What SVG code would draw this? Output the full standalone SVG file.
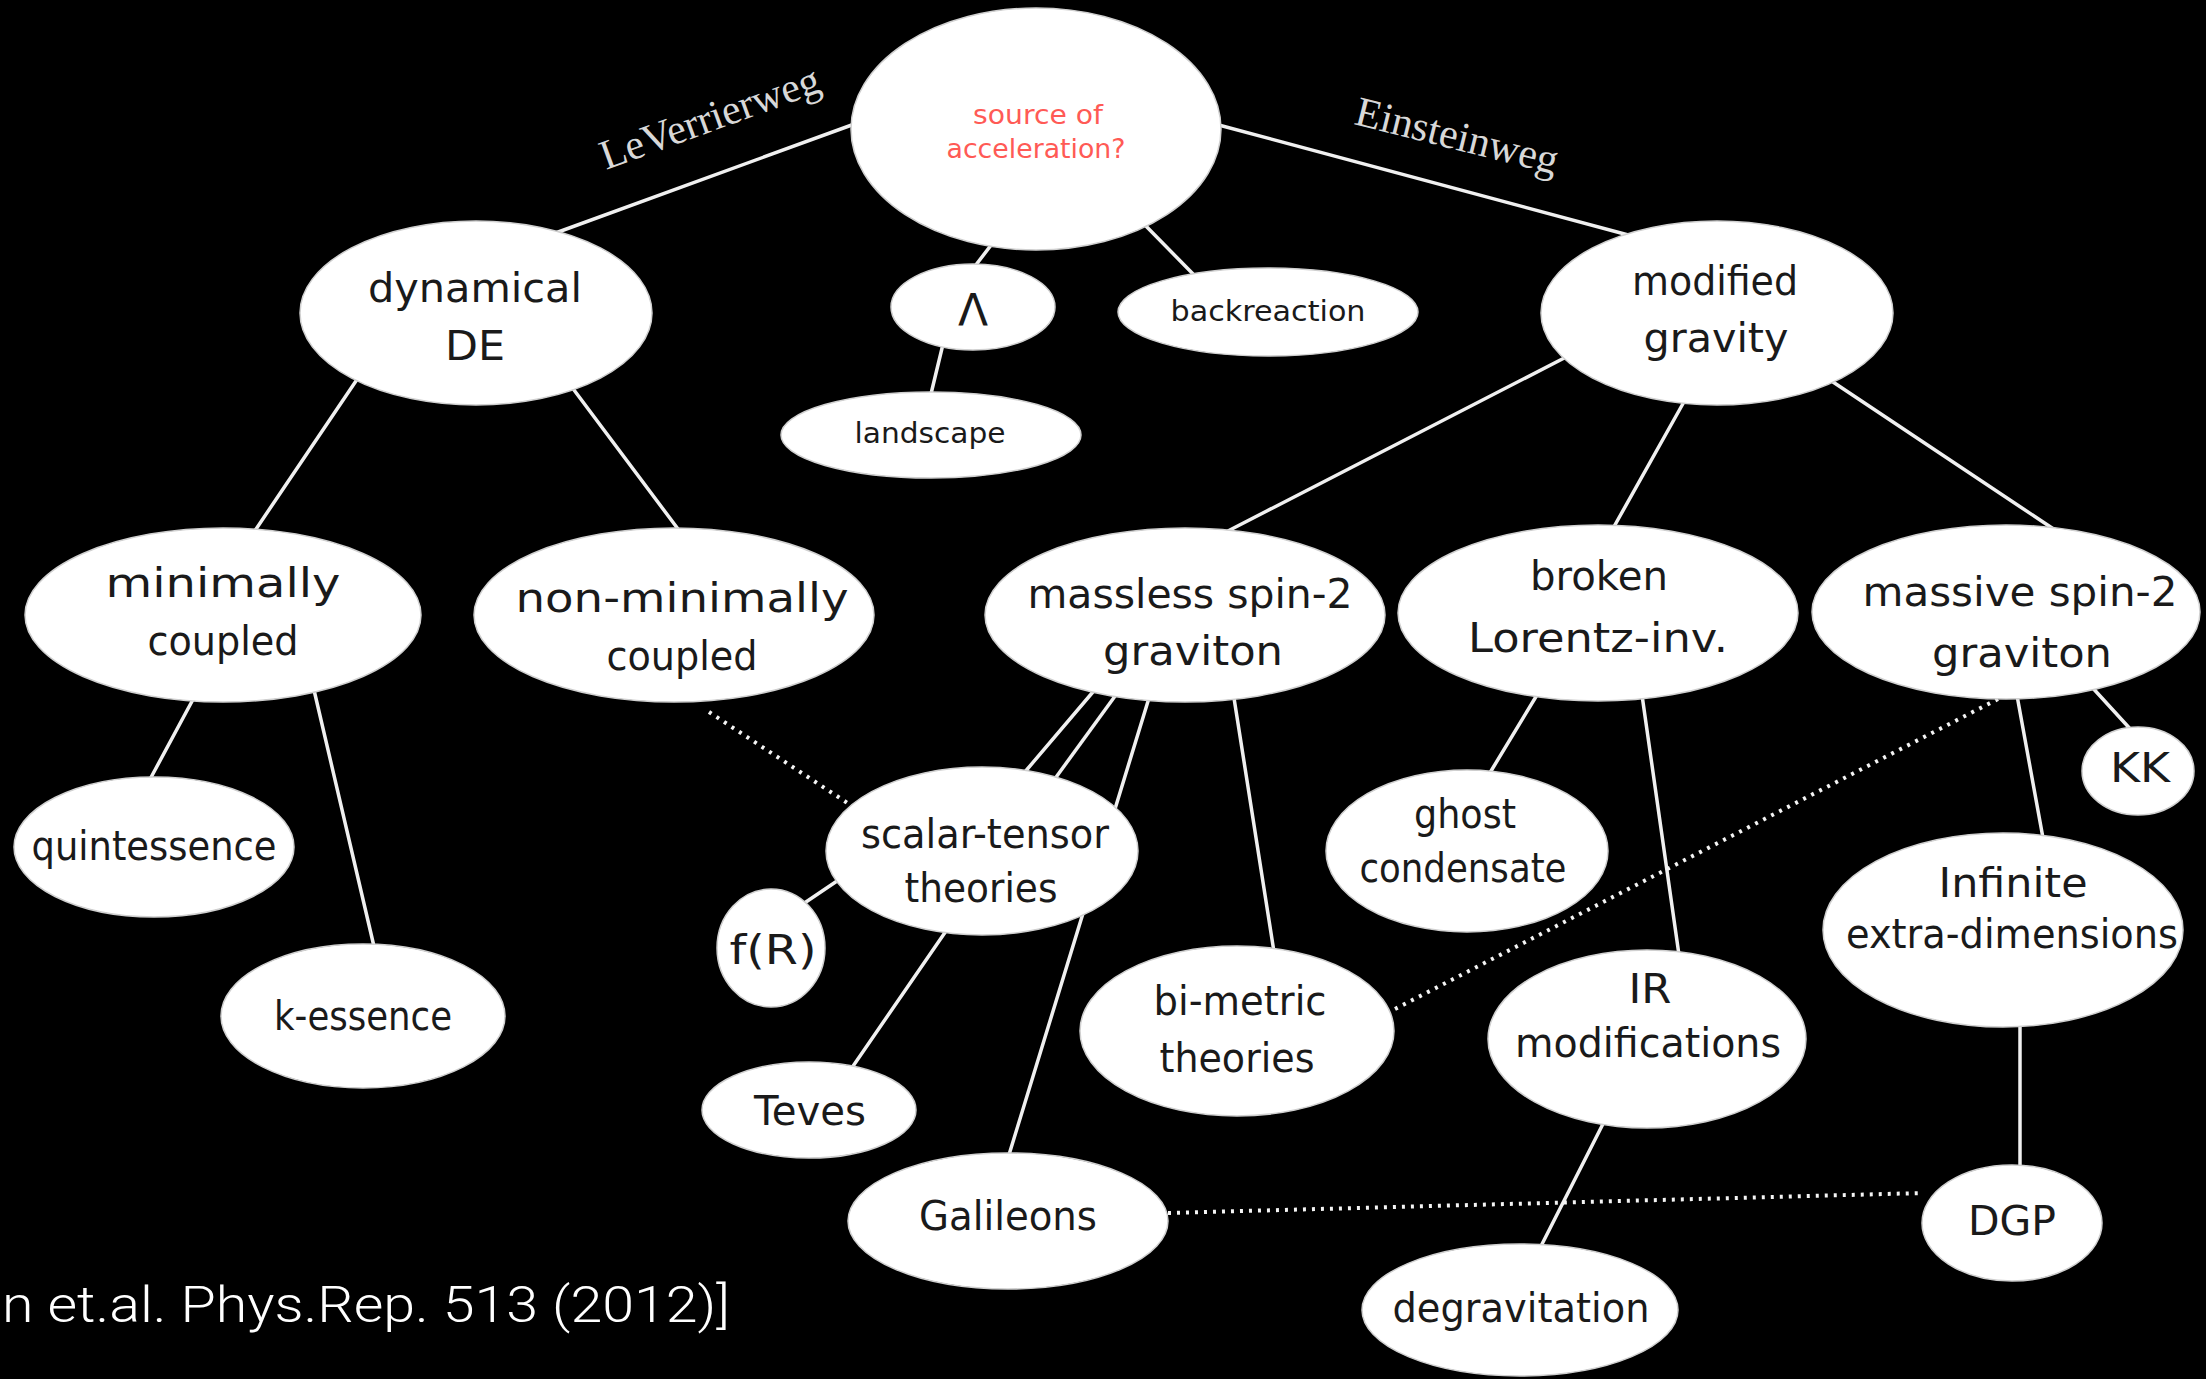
<svg xmlns="http://www.w3.org/2000/svg" width="2206" height="1379" viewBox="0 0 2206 1379">
<style>
.bg{fill:#000}
.n{fill:#fff;stroke:#d0d0d0;stroke-width:1.5}
.t{font-family:"DejaVu Sans","Noto Sans",sans-serif;font-size:40px;fill:#1a1a1a;text-anchor:middle}
.s{font-size:29px}
.red{font-size:26px;fill:#ff5a55}
.c{stroke:#f0f0f0;stroke-width:3.5;fill:none;stroke-linecap:round}
.d{stroke:#f4f4f4;stroke-width:4;fill:none;stroke-dasharray:3 6;stroke-linecap:butt}
.lab{font-family:"Liberation Serif","DejaVu Serif",serif;font-size:42px;fill:#d8d8d8}
.ref{font-family:Roboto,"Liberation Sans",sans-serif;font-weight:300;font-size:50px;fill:#fff}
</style>
<rect class="bg" x="0" y="0" width="2206" height="1379"/>
<g id="connectors">
<line class="c" x1="860" y1="122" x2="550" y2="235"/>
<line class="c" x1="1215" y1="124" x2="1632" y2="236"/>
<line class="c" x1="995" y1="240" x2="972" y2="270"/>
<line class="c" x1="944" y1="340" x2="930" y2="398"/>
<line class="c" x1="1140" y1="220" x2="1197" y2="278"/>
<line class="c" x1="360" y1="375" x2="252" y2="535"/>
<line class="c" x1="574" y1="390" x2="681" y2="533"/>
<line class="c" x1="1570" y1="355" x2="1226" y2="532"/>
<line class="c" x1="1685" y1="400" x2="1611" y2="532"/>
<line class="c" x1="1830" y1="380" x2="2055" y2="530"/>
<line class="c" x1="197" y1="692" x2="148" y2="783"/>
<line class="c" x1="314" y1="690" x2="376" y2="955"/>
<line class="d" x1="709" y1="712" x2="852" y2="806"/>
<line class="c" x1="1098" y1="686" x2="1024" y2="773"/>
<line class="c" x1="1118" y1="692" x2="1054" y2="780"/>
<line class="c" x1="1149" y1="698" x2="1008" y2="1158"/>
<line class="c" x1="1234" y1="698" x2="1274" y2="952"/>
<line class="c" x1="840" y1="879" x2="800" y2="906"/>
<line class="c" x1="946" y1="931" x2="849" y2="1072"/>
<line class="c" x1="1540" y1="690" x2="1488" y2="776"/>
<line class="c" x1="1642" y1="695" x2="1679" y2="955"/>
<line class="c" x1="2090" y1="685" x2="2133" y2="732"/>
<line class="c" x1="2016" y1="690" x2="2043" y2="838"/>
<line class="d" x1="1998" y1="699" x2="1393" y2="1010"/>
<line class="c" x1="2020" y1="1020" x2="2020" y2="1170"/>
<line class="c" x1="1607" y1="1116" x2="1538" y2="1252"/>
<line class="d" x1="1168" y1="1213" x2="1923" y2="1193"/>
</g>
<text class="lab" transform="translate(606,170) rotate(-20)">LeVerrierweg</text>
<text class="lab" transform="translate(1353,124) rotate(14)">Einsteinweg</text>
<g id="source"><ellipse class="n" cx="1036" cy="129" rx="185" ry="121"/>
<text class="t red" x="1038" y="124" textLength="130" lengthAdjust="spacingAndGlyphs">source of</text>
<text class="t red" x="1036" y="158" textLength="179" lengthAdjust="spacingAndGlyphs">acceleration?</text></g>
<g id="dynamical"><ellipse class="n" cx="476" cy="313" rx="176" ry="92"/>
<text class="t" x="475" y="302" textLength="214" lengthAdjust="spacingAndGlyphs">dynamical</text>
<text class="t" x="475" y="360" textLength="60" lengthAdjust="spacingAndGlyphs">DE</text></g>
<g id="lambda"><ellipse class="n" cx="973" cy="307" rx="82" ry="43"/>
<text class="t" x="973" y="326" style="font-size:44px">Λ</text></g>
<g id="landscape"><ellipse class="n" cx="931" cy="435" rx="150" ry="43"/>
<text class="t s" x="930" y="443" textLength="151" lengthAdjust="spacingAndGlyphs">landscape</text></g>
<g id="backreaction"><ellipse class="n" cx="1268" cy="312" rx="150" ry="44"/>
<text class="t s" x="1268" y="321" textLength="195" lengthAdjust="spacingAndGlyphs">backreaction</text></g>
<g id="modified"><ellipse class="n" cx="1717" cy="313" rx="176" ry="92"/>
<text class="t" x="1715" y="295" textLength="166" lengthAdjust="spacingAndGlyphs">modified</text>
<text class="t" x="1716" y="352" textLength="145" lengthAdjust="spacingAndGlyphs">gravity</text></g>
<g id="minimally"><ellipse class="n" cx="223" cy="615" rx="198" ry="87"/>
<text class="t" x="223" y="597" textLength="235" lengthAdjust="spacingAndGlyphs">minimally</text>
<text class="t" x="223" y="655" textLength="151" lengthAdjust="spacingAndGlyphs">coupled</text></g>
<g id="nonminimally"><ellipse class="n" cx="674" cy="615" rx="200" ry="87"/>
<text class="t" x="682" y="612" textLength="333" lengthAdjust="spacingAndGlyphs">non-minimally</text>
<text class="t" x="682" y="670" textLength="151" lengthAdjust="spacingAndGlyphs">coupled</text></g>
<g id="massless"><ellipse class="n" cx="1185" cy="615" rx="200" ry="87"/>
<text class="t" x="1190" y="608" textLength="325" lengthAdjust="spacingAndGlyphs">massless spin-2</text>
<text class="t" x="1193" y="665" textLength="180" lengthAdjust="spacingAndGlyphs">graviton</text></g>
<g id="broken"><ellipse class="n" cx="1598" cy="613" rx="200" ry="88"/>
<text class="t" x="1599" y="590" textLength="138" lengthAdjust="spacingAndGlyphs">broken</text>
<text class="t" x="1598" y="652" textLength="260" lengthAdjust="spacingAndGlyphs">Lorentz-inv.</text></g>
<g id="massive"><ellipse class="n" cx="2006" cy="612" rx="194" ry="87"/>
<text class="t" x="2020" y="606" textLength="315" lengthAdjust="spacingAndGlyphs">massive spin-2</text>
<text class="t" x="2022" y="667" textLength="180" lengthAdjust="spacingAndGlyphs">graviton</text></g>
<g id="quintessence"><ellipse class="n" cx="154" cy="847" rx="140" ry="70"/>
<text class="t" x="154" y="860" textLength="245" lengthAdjust="spacingAndGlyphs">quintessence</text></g>
<g id="kessence"><ellipse class="n" cx="363" cy="1016" rx="142" ry="72"/>
<text class="t" x="363" y="1030" textLength="178" lengthAdjust="spacingAndGlyphs">k-essence</text></g>
<g id="scalartensor"><ellipse class="n" cx="982" cy="851" rx="156" ry="84"/>
<text class="t" x="985" y="848" textLength="248" lengthAdjust="spacingAndGlyphs">scalar-tensor</text>
<text class="t" x="981" y="902" textLength="153" lengthAdjust="spacingAndGlyphs">theories</text></g>
<g id="fR"><ellipse class="n" cx="771" cy="948" rx="54" ry="59"/>
<text class="t" x="773" y="964" textLength="87" lengthAdjust="spacingAndGlyphs">f(R)</text></g>
<g id="teves"><ellipse class="n" cx="809" cy="1110" rx="107" ry="48"/>
<text class="t" x="810" y="1125" textLength="112" lengthAdjust="spacingAndGlyphs">Teves</text></g>
<g id="galileons"><ellipse class="n" cx="1008" cy="1221" rx="160" ry="68"/>
<text class="t" x="1008" y="1230" textLength="178" lengthAdjust="spacingAndGlyphs">Galileons</text></g>
<g id="bimetric"><ellipse class="n" cx="1237" cy="1031" rx="157" ry="85"/>
<text class="t" x="1240" y="1015" textLength="173" lengthAdjust="spacingAndGlyphs">bi-metric</text>
<text class="t" x="1237" y="1072" textLength="155" lengthAdjust="spacingAndGlyphs">theories</text></g>
<g id="ghost"><ellipse class="n" cx="1467" cy="851" rx="141" ry="81"/>
<text class="t" x="1465" y="828" textLength="102" lengthAdjust="spacingAndGlyphs">ghost</text>
<text class="t" x="1463" y="882" textLength="207" lengthAdjust="spacingAndGlyphs">condensate</text></g>
<g id="ir"><ellipse class="n" cx="1647" cy="1039" rx="159" ry="89"/>
<text class="t" x="1650" y="1003" textLength="43" lengthAdjust="spacingAndGlyphs">IR</text>
<text class="t" x="1648" y="1057" textLength="266" lengthAdjust="spacingAndGlyphs">modifications</text></g>
<g id="degravitation"><ellipse class="n" cx="1520" cy="1310" rx="158" ry="66"/>
<text class="t" x="1521" y="1322" textLength="257" lengthAdjust="spacingAndGlyphs">degravitation</text></g>
<g id="kk"><ellipse class="n" cx="2138" cy="771" rx="56" ry="44"/>
<text class="t" x="2140" y="782" textLength="60" lengthAdjust="spacingAndGlyphs">KK</text></g>
<g id="infinite"><ellipse class="n" cx="2003" cy="930" rx="180" ry="97"/>
<text class="t" x="2013" y="897" textLength="149" lengthAdjust="spacingAndGlyphs">Infinite</text>
<text class="t" x="2012" y="948" textLength="332" lengthAdjust="spacingAndGlyphs">extra-dimensions</text></g>
<g id="dgp"><ellipse class="n" cx="2012" cy="1223" rx="90" ry="58"/>
<text class="t" x="2012" y="1235" textLength="88" lengthAdjust="spacingAndGlyphs">DGP</text></g>
<text class="ref" x="2" y="1322" textLength="728" lengthAdjust="spacingAndGlyphs">n et.al. Phys.Rep. 513 (2012)]</text>
</svg>
